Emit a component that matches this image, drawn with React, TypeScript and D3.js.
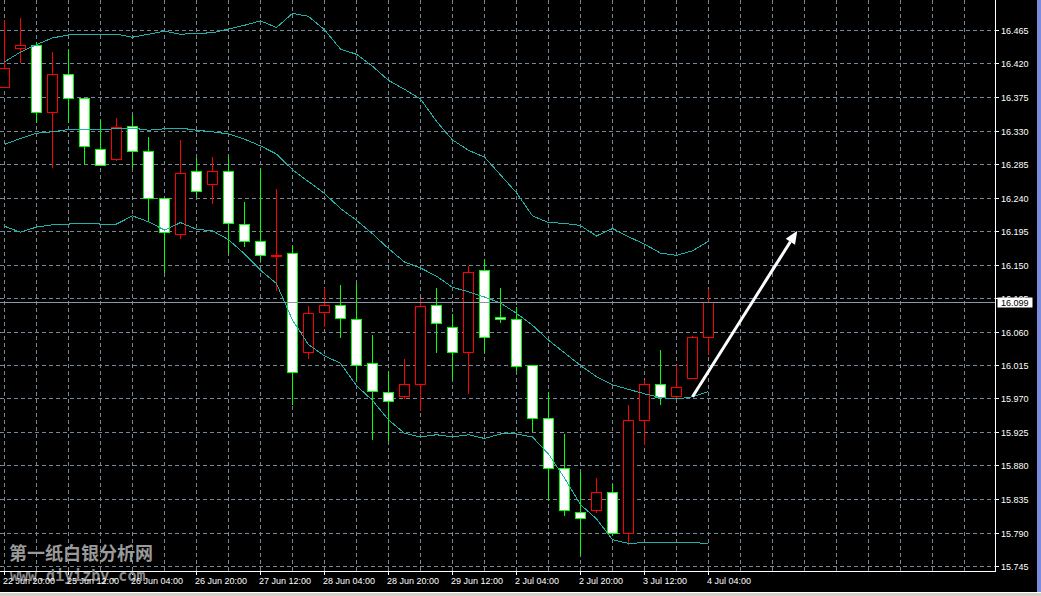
import React from 'react';
import * as d3 from 'd3';

// ---- data (H4 bars) ----
const timeLabels = [
  '22 Jun 20:00', '25 Jun 12:00', '26 Jun 04:00', '26 Jun 20:00', '27 Jun 12:00', '28 Jun 04:00',
  '28 Jun 20:00', '29 Jun 12:00', '2 Jul 04:00', '2 Jul 20:00', '3 Jul 12:00', '4 Jul 04:00',
];

const opens = [16.388, 16.441, 16.445, 16.355, 16.406, 16.373, 16.305, 16.292, 16.336, 16.302, 16.240, 16.191, 16.275, 16.258, 16.275, 16.205, 16.181, 16.163, 16.166, 16.033, 16.086, 16.096, 16.077, 16.018, 15.979, 15.974, 15.990, 16.096, 16.066, 16.033, 16.142, 16.080, 16.077, 16.015, 15.944, 15.877, 15.818, 15.820, 15.845, 15.790, 15.941, 15.990, 15.973, 15.998, 16.053];
const highs = [16.480, 16.483, 16.450, 16.437, 16.439, 16.373, 16.345, 16.348, 16.352, 16.322, 16.241, 16.318, 16.295, 16.296, 16.296, 16.235, 16.280, 16.253, 16.176, 16.095, 16.120, 16.124, 16.125, 16.057, 16.008, 16.025, 16.105, 16.120, 16.085, 16.149, 16.159, 16.120, 16.094, 16.017, 15.980, 15.924, 15.873, 15.865, 15.857, 15.962, 15.996, 16.037, 16.017, 16.055, 16.119];
const lows = [16.388, 16.422, 16.341, 16.281, 16.342, 16.285, 16.283, 16.291, 16.281, 16.209, 16.140, 16.185, 16.242, 16.232, 16.165, 16.175, 16.156, 16.116, 15.963, 16.025, 16.067, 16.052, 15.995, 15.915, 15.914, 15.970, 15.954, 16.032, 15.996, 15.977, 16.032, 16.073, 16.008, 15.926, 15.834, 15.814, 15.761, 15.818, 15.786, 15.775, 15.909, 15.963, 15.970, 15.998, 16.030];
const closes = [16.414, 16.445, 16.355, 16.406, 16.373, 16.309, 16.283, 16.335, 16.302, 16.240, 16.193, 16.273, 16.249, 16.276, 16.206, 16.182, 16.163, 16.163, 16.006, 16.085, 16.096, 16.078, 16.015, 15.980, 15.966, 15.990, 16.094, 16.072, 16.033, 16.140, 16.052, 16.077, 16.014, 15.944, 15.877, 15.820, 15.810, 15.845, 15.790, 15.941, 15.990, 15.972, 15.986, 16.053, 16.099];

const upperBand = [16.423, 16.436, 16.446, 16.455, 16.459, 16.459, 16.459, 16.460, 16.456, 16.460, 16.464, 16.460, 16.461, 16.462, 16.467, 16.472, 16.478, 16.469, 16.488, 16.484, 16.466, 16.440, 16.433, 16.417, 16.398, 16.386, 16.373, 16.343, 16.318, 16.304, 16.295, 16.271, 16.247, 16.216, 16.207, 16.206, 16.203, 16.189, 16.199, 16.188, 16.178, 16.166, 16.163, 16.169, 16.182];
const middleBand = [16.312, 16.320, 16.327, 16.329, 16.332, 16.332, 16.332, 16.333, 16.334, 16.331, 16.333, 16.334, 16.331, 16.329, 16.326, 16.319, 16.310, 16.299, 16.278, 16.262, 16.246, 16.226, 16.210, 16.192, 16.172, 16.154, 16.146, 16.135, 16.120, 16.114, 16.107, 16.099, 16.085, 16.069, 16.049, 16.032, 16.015, 16.000, 15.989, 15.983, 15.977, 15.972, 15.970, 15.973, 15.980];
const lowerBand = [16.202, 16.194, 16.201, 16.204, 16.205, 16.206, 16.205, 16.205, 16.216, 16.208, 16.197, 16.207, 16.198, 16.196, 16.184, 16.165, 16.143, 16.125, 16.076, 16.043, 16.028, 16.018, 15.988, 15.968, 15.942, 15.924, 15.919, 15.922, 15.919, 15.922, 15.917, 15.923, 15.923, 15.919, 15.896, 15.864, 15.828, 15.809, 15.781, 15.776, 15.777, 15.777, 15.777, 15.777, 15.776];

const priceTicks = [16.510, 16.465, 16.420, 16.375, 16.330, 16.285, 16.240, 16.195, 16.150, 16.105, 16.060, 16.015, 15.970, 15.925, 15.880, 15.835, 15.790, 15.745];
const currentPrice = 16.099;
const arrowFrom = { bar: 43, price: 15.973 };
const arrowTo = { bar: 49.55, price: 16.196 };
const watermarkCn = '第一纸白银分析网';
const watermarkUrl = 'www.diyizby.com';

export default function App() {
  const W = 1041;
  const H = 596;
  const axisX = 995.5;
  const axisY = 571.5;
  const gridColor = '#778899';
  const bandColor = '#20B2AA';
  const font = "'Liberation Sans', Arial, sans-serif";

  const x = d3.scaleLinear().domain([0, 44]).range([4.5, 708.5]);
  const y = d3.scaleLinear().domain([15.745, 16.465]).range([566.5, 30.5]);
  const snap = (v: number) => Math.round(v - 0.5) + 0.5;

  const vGrid = d3.range(0, 61, 2).map((i) => x(i));
  const labelBars = d3.range(0, 45, 4);

  const line = d3
    .line<number>()
    .x((_, i) => x(i))
    .y((d) => y(d));

  const candles = opens.map((o, i) => {
    const c = closes[i];
    const bull = c >= o;
    const cx = x(i);
    let top = snap(y(Math.max(o, c)));
    let bot = snap(y(Math.min(o, c)));
    if (bot - top < 1) bot = top + 1;
    return { i, cx, bull, top, bot, hi: snap(y(highs[i])), lo: snap(y(lows[i])) };
  });

  // arrow geometry
  const ax0 = x(arrowFrom.bar);
  const ay0 = y(arrowFrom.price);
  const ax1 = x(arrowTo.bar);
  const ay1 = y(arrowTo.price);
  const ang = Math.atan2(ay1 - ay0, ax1 - ax0);
  const headLen = 13;
  const headW = 5.5;
  const bx = ax1 - headLen * Math.cos(ang);
  const by = ay1 - headLen * Math.sin(ang);
  const px = -Math.sin(ang);
  const py = Math.cos(ang);
  const head = `M${ax1},${ay1} L${bx + px * headW},${by + py * headW} L${bx - px * headW},${by - py * headW} Z`;

  const cpY = snap(y(currentPrice));

  return (
    <svg
      width={W}
      height={H}
      style={{ position: 'absolute', left: 0, top: 0, background: '#000', display: 'block' }}
    >
      <defs>
        <clipPath id="plot">
          <rect x={0} y={0} width={axisX} height={axisY} />
        </clipPath>
      </defs>
      <rect x={0} y={0} width={W} height={H} fill="#000" />

      {/* grid */}
      <g stroke={gridColor} strokeWidth={1} strokeDasharray="4,3" shapeRendering="crispEdges">
        {vGrid.map((gx, i) => (
          <line key={'v' + i} x1={gx} x2={gx} y1={0} y2={axisY} />
        ))}
        {priceTicks.map((t, i) => {
          const gy = snap(y(t));
          return gy > 0 ? <line key={'h' + i} x1={0} x2={axisX} y1={gy} y2={gy} /> : null;
        })}
      </g>

      {/* watermark */}
      <text
        x={9}
        y={560}
        fill="#9a9a9a"
        fontFamily="'Noto Sans CJK SC', sans-serif"
        fontWeight="bold"
        fontSize={18}
      >
        {watermarkCn}
      </text>

      <g clipPath="url(#plot)">
        {/* candles */}
        {candles.map((c) => {
          const col = c.bull ? '#ff0000' : '#00ff00';
          return (
            <g key={c.i} shapeRendering="crispEdges">
              <line x1={c.cx} x2={c.cx} y1={c.hi} y2={c.lo} stroke={col} strokeWidth={1} />
              <rect
                x={c.cx - 5}
                y={c.top}
                width={10}
                height={c.bot - c.top}
                fill={c.bull ? '#000' : '#fff'}
                stroke={col}
                strokeWidth={1}
              />
            </g>
          );
        })}

        {/* bollinger bands */}
        <g fill="none" stroke={bandColor} strokeWidth={1} shapeRendering="crispEdges">
          <path d={line(upperBand) || ''} />
          <path d={line(middleBand) || ''} />
          <path d={line(lowerBand) || ''} />
        </g>

        {/* current price line */}
        <line x1={0} x2={axisX} y1={cpY} y2={cpY} stroke="#8a96a3" strokeWidth={1} shapeRendering="crispEdges" />

        {/* arrow */}
        <line x1={ax0} y1={ay0} x2={bx} y2={by} stroke="#fff" strokeWidth={3} />
        <path d={head} fill="#fff" />
      </g>

      {/* axes */}
      <g stroke="#fff" strokeWidth={1} shapeRendering="crispEdges">
        <line x1={axisX} x2={axisX} y1={0} y2={axisY} />
        <line x1={0} x2={axisX} y1={axisY} y2={axisY} />
        {priceTicks.map((t, i) => {
          const gy = snap(y(t));
          return <line key={'rt' + i} x1={axisX} x2={axisX + 3} y1={gy} y2={gy} />;
        })}
        {labelBars.map((b, i) => (
          <line key={'bt' + i} x1={x(b)} x2={x(b)} y1={axisY} y2={axisY + 3} />
        ))}
      </g>

      {/* url watermark */}
      <text
        x={10}
        y={581}
        fill="#8a8a8a"
        fontFamily="'DejaVu Sans Mono', 'Liberation Mono', monospace"
        fontWeight="bold"
        fontSize={15}
      >
        {watermarkUrl}
      </text>

      {/* price labels */}
      <g fill="#fff" fontFamily={font} fontSize={9}>
        {priceTicks.map((t, i) => (
          <text key={'pl' + i} x={1001} y={snap(y(t)) + 3.5}>
            {t.toFixed(3)}
          </text>
        ))}
      </g>

      {/* current price tag */}
      <rect x={997.5} y={cpY - 5} width={35} height={10} fill="#fff" />
      <text x={1001} y={cpY + 3.5} fill="#000" fontFamily={font} fontSize={9}>
        {currentPrice.toFixed(3)}
      </text>

      {/* time labels */}
      <g fill="#fff" fontFamily={font} fontSize={9}>
        {labelBars.map((b, i) => (
          <text key={'tl' + i} x={x(b) - 1.5} y={584}>
            {timeLabels[i]}
          </text>
        ))}
      </g>

      {/* window frame */}
      <rect x={1037} y={0} width={4} height={592} fill="#7b8ce0" />
      <rect x={0} y={592} width={W} height={1} fill="#ffffff" />
      <rect x={0} y={593} width={W} height={3} fill="#d4d0c8" />
    </svg>
  );
}
